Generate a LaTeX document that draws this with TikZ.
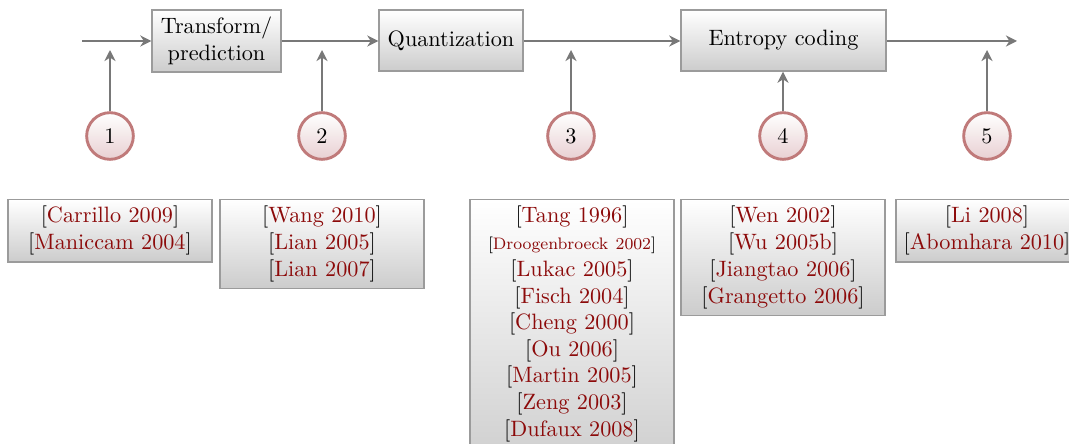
\documentclass[tikz,border=0pt]{standalone}
\usetikzlibrary{arrows.meta}
\definecolor{citered}{RGB}{140,10,10}
\definecolor{ringred}{RGB}{192,122,122}
\definecolor{ringfill}{RGB}{232,208,210}
\definecolor{flowgray}{RGB}{120,120,120}
\definecolor{boxedge}{RGB}{155,155,155}
\newcommand{\ct}[1]{[\textcolor{citered}{#1}]}
\begin{document}
\begin{tikzpicture}[x=0.45pt,y=-0.45pt,
  stage/.style={draw=boxedge,line width=0.6pt,top color=white,bottom color=black!20,
    align=center,inner sep=0pt},
  refbox/.style={draw=boxedge,line width=0.6pt,top color=white,bottom color=black!20,
    align=center,text width=86pt,inner xsep=2.9pt,inner ysep=3pt,anchor=north},
  marker/.style={circle,draw=ringred,line width=1.3pt,top color=white,bottom color=ringfill,
    minimum size=21pt,inner sep=0pt},
  flow/.style={draw=flowgray,line width=0.9pt,-{Stealth[length=5pt,width=5pt,inset=1.6pt]}}]
\useasboundingbox (0,0) rectangle (1069,444);
\clip (0,0) rectangle (1069,444);

% processing stages
\node[stage,minimum width=58pt,minimum height=28pt] (tp) at (216.5,41)
  {Transform/\\prediction};
\node[stage,minimum width=64.8pt,minimum height=27.5pt] (qz) at (451,40.5) {Quantization};
\node[stage,minimum width=92.3pt,minimum height=27.5pt] (ec) at (783.5,40.5) {Entropy coding};

\coordinate (in) at (82,41);
\coordinate (out) at (1017,41);
\draw[flow] (in) -- (tp.west |- in);
\draw[flow] (tp.east |- in) -- (qz.west |- in);
\draw[flow] (qz.east |- in) -- (ec.west |- in);
\draw[flow] (ec.east |- in) -- (out);

% numbered insertion points
\node[marker] (m1) at (110,136) {1};
\node[marker] (m2) at (322,136) {2};
\node[marker] (m3) at (571,136) {3};
\node[marker] (m4) at (783,136) {4};
\node[marker] (m5) at (987,136) {5};

\coordinate (t1) at (110,50);
\coordinate (t2) at (322,50);
\coordinate (t3) at (571,50);
\coordinate (t5) at (987,50);
\draw[flow] (m1) -- (t1);
\draw[flow] (m2) -- (t2);
\draw[flow] (m3) -- (t3);
\draw[flow] (m4) -- (ec.south -| m4);
\draw[flow] (m5) -- (t5);

% references for each point
\node[refbox] (r1) at (110,199) {\ct{Carrillo 2009}\\\ct{Maniccam 2004}};
\node[refbox] (r2) at (322,199) {\ct{Wang 2010}\\\ct{Lian 2005}\\\ct{Lian 2007}};
\node[refbox] (r3) at (572,199) {\ct{Tang 1996}\\
  {\fontsize{7.5pt}{9pt}\selectfont\ct{Droogenbroeck 2002}}\\\ct{Lukac 2005}\\\ct{Fisch 2004}\\
  \ct{Cheng 2000}\\\ct{Ou 2006}\\\ct{Martin 2005}\\\ct{Zeng 2003}\\\ct{Dufaux 2008}\\\strut};
\node[refbox] (r4) at (783,199) {\ct{Wen 2002}\\\ct{Wu 2005b}\\\ct{Jiangtao 2006}\\\ct{Grangetto 2006}};
\node[refbox,text width=76pt] (r5) at (987,199) {\ct{Li~2008}\\\ct{Abomhara~2010}};
\end{tikzpicture}
\end{document}
